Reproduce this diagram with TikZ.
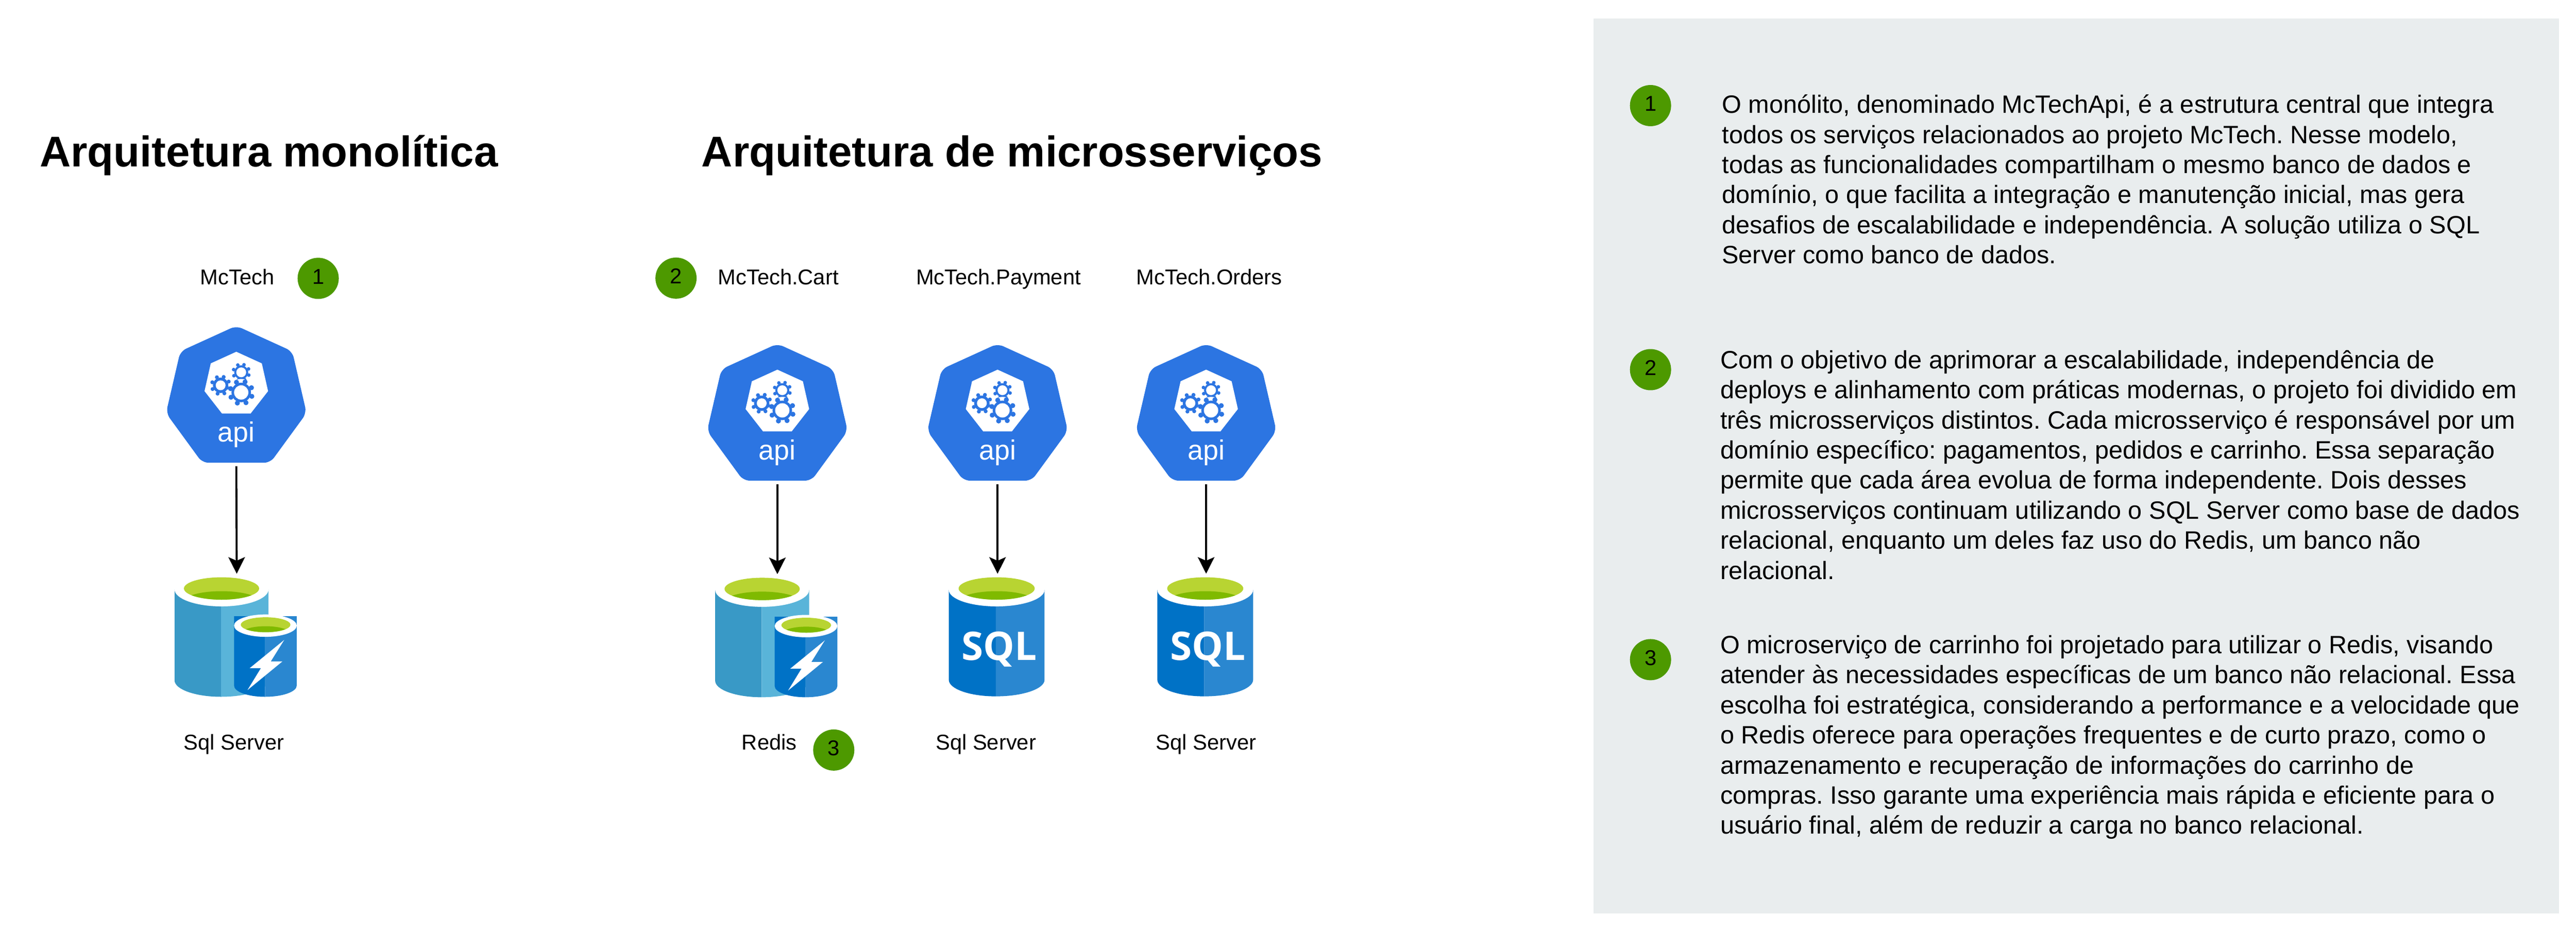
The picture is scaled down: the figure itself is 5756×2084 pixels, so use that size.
\documentclass[tikz,border=0pt]{standalone}
\usepackage{fontspec}
\setmainfont{Liberation Sans}
\newfontfamily\sqlfont{Open Sans}
\usepackage{xcolor}
\usetikzlibrary{arrows.meta}

\definecolor{apiblue}{HTML}{2C75E2}
\definecolor{badgegreen}{HTML}{4D9900}
\definecolor{panelgray}{HTML}{E9EDEE}
\definecolor{limelight}{HTML}{B8D432}
\definecolor{limedark}{HTML}{7FBA00}
\definecolor{cyandark}{HTML}{3999C6}
\definecolor{cyanlight}{HTML}{59B4D9}
\definecolor{sqldark}{HTML}{0072C6}
\definecolor{sqllight}{HTML}{2A87D0}

\newcommand{\apigear}[4]{
    \fill[white] (#1,#2) circle[radius=#3*1.08];
    \fill[apiblue] (#1,#2) circle[radius=#3*0.78];
    \foreach \a in {0,45,...,315}
        \fill[apiblue] ({#1+0.9*#3*cos(\a+20)},{#2+0.9*#3*sin(\a+20)}) circle[radius=#3*0.2];
    \fill[white] (#1,#2) circle[radius=#4];
}
\newcommand{\dbwell}[6]{
    \fill[limelight] (#1,#2) ellipse[x radius=#3,y radius=#4];
    \begin{scope}
        \clip (#1,#2) ellipse[x radius=#3,y radius=#4];
        \fill[limedark] (#1,#5) ellipse[x radius=#6,y radius=#4];
    \end{scope}
}

\tikzset{
    pics/apiicon/.style={code={
        \fill[apiblue,rounded corners=3.5pt] (0,-3) -- (125,54) -- (157,192) -- (76,303) -- (-76,303) -- (-157,192) -- (-125,54) -- cycle;
        \fill[white] (0,55) -- (57,81) -- (71,143) -- (32,193) -- (-32,193) -- (-71,143) -- (-57,81) -- cycle;
        \apigear{-35}{130}{22}{11}
        \apigear{11}{101}{20}{11}
        \apigear{11}{146}{28}{16}
        \node[apitext] (-name) at (0,256) {api};
        \coordinate (-out) at (0,311);
    }},
    pics/redisdb/.style={code={
        \fill[cyandark] (-104,0) -- (-104,203) arc[start angle=180,end angle=90,x radius=104,y radius=37] -- (0,0) -- cycle;
        \fill[cyanlight] (0,0) -- (0,240) arc[start angle=90,end angle=0,x radius=106,y radius=37] -- (106,0) -- cycle;
        \fill[white] (1,0) ellipse[x radius=105,y radius=38];
        \dbwell{1}{-2}{84}{25}{29}{87}
        \fill[sqldark] (98,60) -- (29,60) -- (29,215) arc[start angle=180,end angle=90,x radius=69,y radius=25] -- cycle;
        \fill[sqllight] (98,60) -- (98,240) arc[start angle=90,end angle=0,x radius=71,y radius=25] -- (169,60) -- cycle;
        \fill[white] (99,81) ellipse[x radius=70,y radius=25];
        \dbwell{99.5}{79}{55.5}{16.7}{99}{55}
        \fill[white] (141,113) -- (64,176) -- (89,176) -- (59,225) -- (137,161) -- (111,161) -- cycle;
        \coordinate (-in) at (35,-35);
    }},
    pics/sqldb/.style={code={
        \fill[sqldark] (-105,0) -- (-105,201) arc[start angle=180,end angle=90,x radius=105,y radius=37] -- (0,0) -- cycle;
        \fill[sqllight] (0,0) -- (0,238) arc[start angle=90,end angle=0,x radius=109,y radius=37] -- (109,0) -- cycle;
        \fill[white] (2,0) ellipse[x radius=107,y radius=37];
        \dbwell{2}{-3}{85}{25}{28}{87}
        \node[sqltext] (-name) at (8,157) {SQL};
        \coordinate (-in) at (4,-36);
    }},
    apitext/.style={anchor=base,inner sep=0,text=white,font=\fontsize{15.5}{18}\selectfont},
    sqltext/.style={anchor=base,inner sep=0,text=white,font=\sqlfont\bfseries\fontsize{22}{26}\selectfont},
    heading/.style={anchor=base west,inner sep=0,font=\bfseries\fontsize{24}{28}\selectfont},
    label/.style={anchor=base,inner sep=0,font=\fontsize{12}{14}\selectfont},
    badge/.style={circle,fill=badgegreen,minimum size=23pt,inner sep=0,text depth=2pt,font=\fontsize{12}{14}\selectfont},
    note/.style={anchor=north west,inner sep=0,align=left,font=\frenchspacing\fontsize{14}{16.8}\selectfont},
    flowarrow/.style={line width=1.1pt,-{Stealth[length=9.25pt,width=9.25pt,inset=2pt]}}
}

\begin{document}
\begin{tikzpicture}[x=0.25pt,y=-0.25pt]
    \useasboundingbox (0,0) rectangle (5756,2084);

    \node[heading] (monotitle) at (88,372) {Arquitetura monolítica};
    \node[heading] (microtitle) at (1567,372) {Arquitetura de microsserviços};

    \node[label] (mononame) at (530,636) {McTech};
    \node[badge] (badgeone) at (711,622) {1};
    \pic (monoapi) at (528,731) {apiicon};
    \pic (monodb) at (494,1317) {redisdb};
    \node[label] (monodbname) at (523,1676) {Sql Server};
    \draw[flowarrow] (monoapi-out) -- (monodb-in);

    \node[badge] (badgetwo) at (1510.5,621.5) {2};
    \node[label] (cartname) at (1739,636) {McTech.Cart};
    \node[label] (paymentname) at (2231,636) {McTech.Payment};
    \node[label] (ordersname) at (2702,636) {McTech.Orders};

    \pic (cartapi) at (1737,771) {apiicon};
    \pic (paymentapi) at (2229,771) {apiicon};
    \pic (ordersapi) at (2695,771) {apiicon};

    \pic (cartdb) at (1702,1318) {redisdb};
    \pic (paymentdb) at (2225,1318) {sqldb};
    \pic (ordersdb) at (2691,1318) {sqldb};

    \draw[flowarrow] (cartapi-out) -- (cartdb-in);
    \draw[flowarrow] (paymentapi-out) -- (paymentdb-in);
    \draw[flowarrow] (ordersapi-out) -- (ordersdb-in);

    \node[label] (redisname) at (1719,1675) {Redis};
    \node[badge] (badgethree) at (1863,1676) {3};
    \node[label] (paymentdbname) at (2203,1675) {Sql Server};
    \node[label] (ordersdbname) at (2695,1675) {Sql Server};

    \fill[panelgray] (3561,42) rectangle (5718,2041);

    \node[badge] (noteonebadge) at (3688,236) {1};
    \node[note] (noteone) at (3847,211) {O monólito, denominado McTechApi, é a estrutura central que integra\\
        todos os serviços relacionados ao projeto McTech. Nesse modelo,\\
        todas as funcionalidades compartilham o mesmo banco de dados e\\
        domínio, o que facilita a integração e manutenção inicial, mas gera\\
        desafios de escalabilidade e independência. A solução utiliza o SQL\\
        Server como banco de dados.};

    \node[badge] (notetwobadge) at (3688,826) {2};
    \node[note] (notetwo) at (3843,782) {Com o objetivo de aprimorar a escalabilidade, independência de\\
        deploys e alinhamento com práticas modernas, o projeto foi dividido em\\
        três microsserviços distintos. Cada microsserviço é responsável por um\\
        domínio específico: pagamentos, pedidos e carrinho. Essa separação\\
        permite que cada área evolua de forma independente. Dois desses\\
        microsserviços continuam utilizando o SQL Server como base de dados\\
        relacional, enquanto um deles faz uso do Redis, um banco não\\
        relacional.};

    \node[badge] (notethreebadge) at (3688,1474) {3};
    \node[note] (notethree) at (3843,1419) {O microserviço de carrinho foi projetado para utilizar o Redis, visando\\
        atender às necessidades específicas de um banco não relacional. Essa\\
        escolha foi estratégica, considerando a performance e a velocidade que\\
        o Redis oferece para operações frequentes e de curto prazo, como o\\
        armazenamento e recuperação de informações do carrinho de\\
        compras. Isso garante uma experiência mais rápida e eficiente para o\\
        usuário final, além de reduzir a carga no banco relacional.};
\end{tikzpicture}
\end{document}
